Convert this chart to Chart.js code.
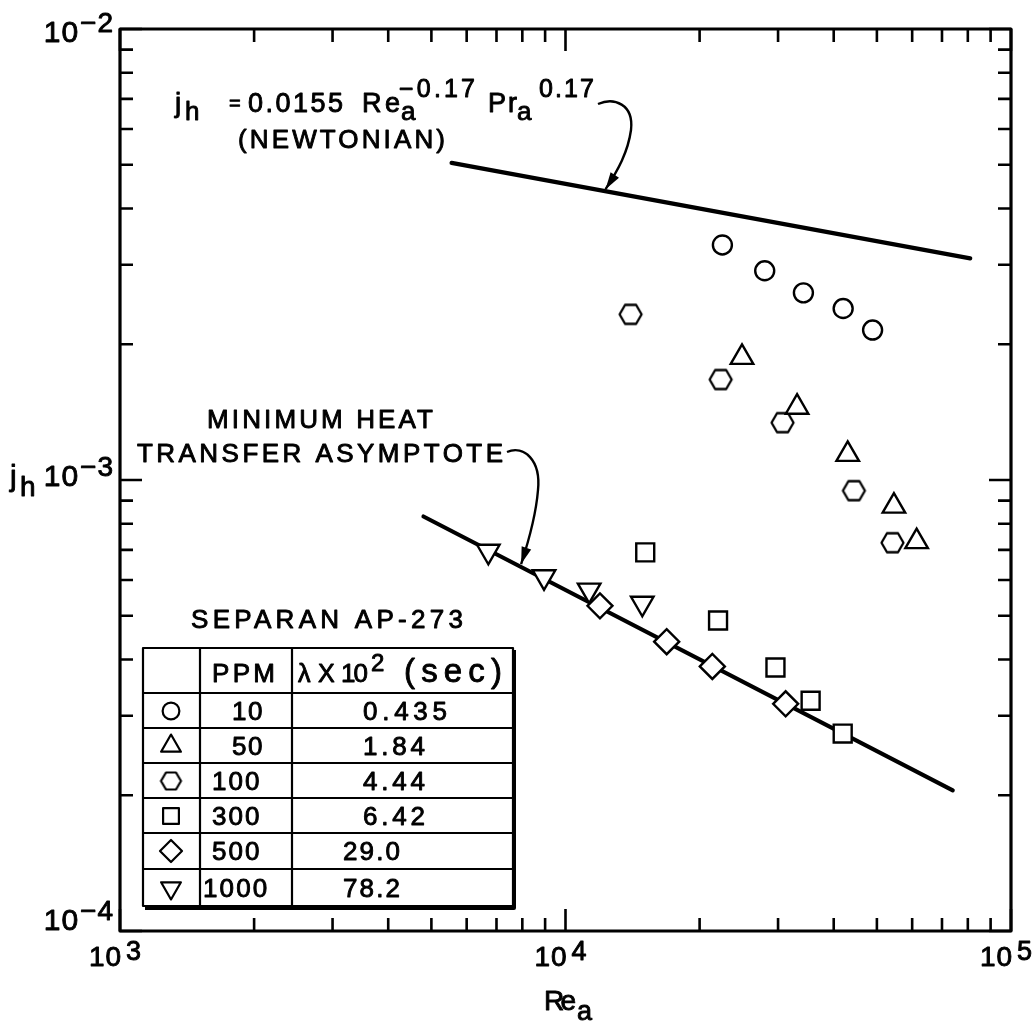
<!DOCTYPE html>
<html>
<head>
<meta charset="utf-8">
<script src="https://cdn.jsdelivr.net/npm/chart.js@4.4.1/dist/chart.umd.min.js"></script>
<style>
  html, body { margin: 0; padding: 0; background: #fff; overflow: hidden; }
  canvas { display: block; }
</style>
</head>
<body>
<canvas id="c" width="1033" height="1023"></canvas>
<script>
// j_h vs apparent Reynolds number for Separan AP-273 solutions (log-log)

// ---- axes ----
const xRange = [1e3, 1e5];
const yRange = [1e-4, 1e-2];
const xMajorTicks = [1e3, 1e4, 1e5];
const xTickExponents = ['3', '4', '5'];
const xMinorTicks = [2e3, 3e3, 4e3, 5e3, 6e3, 7e3, 8e3, 9e3, 2e4, 3e4, 4e4, 5e4, 6e4, 7e4, 8e4, 9e4];
const yMajorTicks = [1e-2, 1e-3, 1e-4];
const yTickExponents = ['\u22122', '\u22123', '\u22124'];
const yMinorTicks = [2e-4, 3e-4, 4e-4, 5e-4, 6e-4, 7e-4, 8e-4, 9e-4, 2e-3, 3e-3, 4e-3, 5e-3, 6e-3, 7e-3, 8e-3, 9e-3];

// ---- legend table ----
const tableTitle = 'SEPARAN AP-273';
const seriesPPM = ['10', '50', '100', '300', '500', '1000'];
const seriesLambda = ['0.435', '1.84', '4.44', '6.42', '29.0', '78.2'];

// ---- measurements (Re_a, j_h) ----
const re10 = [22500, 28000, 34200, 42000, 48900];
const jh10 = [3.32e-3, 2.91e-3, 2.60e-3, 2.40e-3, 2.15e-3];

const re50 = [24900, 33100, 43000, 54600, 61400];
const jh50 = [1.87e-3, 1.45e-3, 1.14e-3, 8.75e-4, 7.30e-4];

const re100 = [14000, 22300, 30700, 44400, 54200];
const jh100 = [2.33e-3, 1.67e-3, 1.34e-3, 9.47e-4, 7.26e-4];

const re300 = [15100, 22000, 29600, 35500, 41900];
const jh300 = [6.91e-4, 4.88e-4, 3.84e-4, 3.24e-4, 2.74e-4];

const re500 = [11950, 16870, 21360, 31200];
const jh500 = [5.26e-4, 4.38e-4, 3.86e-4, 3.19e-4];

const re1000 = [6710, 8950, 11300, 14870];
const jh1000 = [6.95e-4, 6.10e-4, 5.70e-4, 5.33e-4];

// ---- correlation lines ----
const newtonianRe = [5550, 81000];
const newtonianJh = [5.05e-3, 3.10e-3];
const asymptoteRe = [4800, 74000];
const asymptoteJh = [8.30e-4, 2.05e-4];
const newtonianArrowRe = 12300;   // where the equation arrow lands
const asymptoteArrowRe = 7950;    // where the asymptote arrow lands

// ---------------------------------------------------------------
const ink = '#000';
const FONT = '"Liberation Sans", Arial, Helvetica, sans-serif';

function hexagonSprite(w, h, lw) {
  const c = document.createElement('canvas');
  c.width = Math.ceil(w + lw * 2 + 2);
  c.height = Math.ceil(h + lw * 2 + 2);
  const g = c.getContext('2d');
  const cx = c.width / 2, cy = c.height / 2;
  g.beginPath();
  g.moveTo(cx - w / 2, cy);
  g.lineTo(cx - w / 4, cy - h / 2);
  g.lineTo(cx + w / 4, cy - h / 2);
  g.lineTo(cx + w / 2, cy);
  g.lineTo(cx + w / 4, cy + h / 2);
  g.lineTo(cx - w / 4, cy + h / 2);
  g.closePath();
  g.fillStyle = '#fff';
  g.fill();
  g.lineWidth = lw;
  g.lineJoin = 'round';
  g.strokeStyle = ink;
  g.stroke();
  return c;
}

const hexagon = hexagonSprite(22, 19, 2.3);
const hexagonSmall = hexagonSprite(20, 17, 2.2);

const seriesStyles = [
  { pointStyle: 'circle',   radius: 9.5,  rotation: 0 },
  { pointStyle: 'triangle', radius: 13,   rotation: 0 },
  { pointStyle: hexagon,    radius: 11,   rotation: 0 },
  { pointStyle: 'rect',     radius: 12.7, rotation: 0 },
  { pointStyle: 'rectRot',  radius: 12.5, rotation: 0 },
  { pointStyle: 'triangle', radius: 13,   rotation: 180 }
];

const seriesRe = [re10, re50, re100, re300, re500, re1000];
const seriesJh = [jh10, jh50, jh100, jh300, jh500, jh1000];

function points(xs, ys) { return xs.map((v, i) => ({ x: v, y: ys[i] })); }

const markerSets = seriesRe.map((xs, i) => ({
  label: seriesPPM[i] + ' PPM',
  data: points(xs, seriesJh[i]),
  showLine: false,
  pointStyle: seriesStyles[i].pointStyle,
  pointRadius: seriesStyles[i].radius,
  pointHoverRadius: seriesStyles[i].radius,
  pointRotation: seriesStyles[i].rotation,
  pointBackgroundColor: '#fff',
  pointBorderColor: ink,
  pointBorderWidth: 2.4,
  order: 0
}));

const lineSet = (label, xs, ys) => ({
  label,
  data: points(xs, ys),
  showLine: true,
  borderColor: ink,
  borderWidth: 4.2,
  borderCapStyle: 'round',
  pointRadius: 0,
  pointHoverRadius: 0,
  tension: 0,
  order: 10
});

const datasets = markerSets.concat([
  lineSet('Newtonian', newtonianRe, newtonianJh),
  lineSet('Minimum heat transfer asymptote', asymptoteRe, asymptoteJh)
]);

// log-log interpolation along a two-point line
function onLine(xs, ys, x) {
  const t = (Math.log10(x) - Math.log10(xs[0])) / (Math.log10(xs[1]) - Math.log10(xs[0]));
  return Math.pow(10, Math.log10(ys[0]) + t * (Math.log10(ys[1]) - Math.log10(ys[0])));
}

// ---- text helpers (glyphs get a thin outline for a heavier typewriter look) ----
function txt(ctx, s, x, y, size, spacing = 0, align = 'left') {
  ctx.font = size + 'px ' + FONT;
  ctx.letterSpacing = spacing + 'px';
  ctx.textAlign = align;
  ctx.textBaseline = 'alphabetic';
  ctx.fillText(s, x, y);
  ctx.lineWidth = 0.9;
  ctx.lineJoin = 'round';
  ctx.strokeText(s, x, y);
  const w = ctx.measureText(s).width;
  ctx.letterSpacing = '0px';
  return w;
}
function fitTxt(ctx, s, x, y, size, width) {
  ctx.font = size + 'px ' + FONT;
  ctx.letterSpacing = '0px';
  const natural = ctx.measureText(s).width;
  const sp = s.length > 1 ? (width - natural) / (s.length - 1) : 0;
  txt(ctx, s, x, y, size, sp);
}
function textWidth(ctx, s, size, spacing = 0) {
  ctx.font = size + 'px ' + FONT;
  ctx.letterSpacing = spacing + 'px';
  const w = ctx.measureText(s).width;
  ctx.letterSpacing = '0px';
  return w;
}

function arrow(ctx, path, tip) {
  ctx.beginPath();
  ctx.moveTo(path[0][0], path[0][1]);
  ctx.bezierCurveTo(path[1][0], path[1][1], path[2][0], path[2][1], path[3][0], path[3][1]);
  ctx.bezierCurveTo(path[4][0], path[4][1], path[5][0], path[5][1], tip.x, tip.y);
  ctx.lineWidth = 2.4;
  ctx.stroke();
  const ang = Math.atan2(tip.y - path[5][1], tip.x - path[5][0]);
  const L = 17, W = 5;
  ctx.beginPath();
  ctx.moveTo(tip.x, tip.y);
  ctx.lineTo(tip.x - L * Math.cos(ang) + W * Math.sin(ang), tip.y - L * Math.sin(ang) - W * Math.cos(ang));
  ctx.lineTo(tip.x - L * Math.cos(ang) - W * Math.sin(ang), tip.y - L * Math.sin(ang) + W * Math.cos(ang));
  ctx.closePath();
  ctx.fill();
}

const decorations = {
  id: 'decorations',
  afterDatasetsDraw(chart) {
    const { ctx, chartArea: a, scales: { x, y } } = chart;
    ctx.save();
    ctx.fillStyle = ink;
    ctx.strokeStyle = ink;
    ctx.lineCap = 'butt';

    // frame
    ctx.lineWidth = 3.2;
    ctx.lineJoin = 'round';
    ctx.strokeRect(a.left, a.top, a.right - a.left, a.bottom - a.top);

    // inward tick marks on all four sides
    ctx.lineWidth = 2.6;
    const tickX = (v, len) => {
      const px = x.getPixelForValue(v);
      ctx.beginPath();
      ctx.moveTo(px, a.bottom); ctx.lineTo(px, a.bottom - len);
      ctx.moveTo(px, a.top); ctx.lineTo(px, a.top + len);
      ctx.stroke();
    };
    const tickY = (v, len) => {
      const py = y.getPixelForValue(v);
      ctx.beginPath();
      ctx.moveTo(a.left, py); ctx.lineTo(a.left + len, py);
      ctx.moveTo(a.right, py); ctx.lineTo(a.right - len, py);
      ctx.stroke();
    };
    xMinorTicks.forEach(v => tickX(v, 13));
    xMajorTicks.forEach(v => tickX(v, 22));
    yMinorTicks.forEach(v => tickY(v, 13));
    yMajorTicks.forEach(v => tickY(v, 22));

    // x tick labels: 10^n
    xMajorTicks.forEach((v, i) => {
      const cx = x.getPixelForValue(v) - 5;
      const w10 = textWidth(ctx, '10', 28, 1);
      const we = textWidth(ctx, xTickExponents[i], 27);
      const left = cx - (w10 + 4 + we) / 2;
      txt(ctx, '10', left, 966, 28, 1);
      txt(ctx, xTickExponents[i], left + w10 + 4, 960, 27);
    });

    // y tick labels: 10^-n, right-aligned against the axis
    const yLabelShift = [13, 6, -1];
    yMajorTicks.forEach((v, i) => {
      const base = y.getPixelForValue(v) + yLabelShift[i];
      const right = a.left - 6;
      const we = textWidth(ctx, yTickExponents[i], 28, 1);
      const w10 = textWidth(ctx, '10', 30, 1);
      txt(ctx, yTickExponents[i], right - we, base - 10, 28, 1);
      txt(ctx, '10', right - we - w10 - 1, base, 30, 1);
    });

    // axis titles
    txt(ctx, 'j', 10, 486, 30);
    txt(ctx, 'h', 20, 496, 28);
    fitTxt(ctx, 'Re', 544, 1010, 28, 32);
    txt(ctx, 'a', 577, 1020, 27);

    // Newtonian correlation label
    txt(ctx, 'j', 175, 112, 28);
    txt(ctx, 'h', 185, 120, 26);
    txt(ctx, '=', 229, 110, 20);
    fitTxt(ctx, '0.0155', 248, 112, 27, 95);
    fitTxt(ctx, 'Re', 362, 112, 27, 38);
    txt(ctx, 'a', 401, 120, 26);
    fitTxt(ctx, '\u22120.17', 399, 97, 25, 76);
    fitTxt(ctx, 'Pr', 488, 112, 27, 29);
    txt(ctx, 'a', 517, 120, 26);
    fitTxt(ctx, '0.17', 539, 97, 25, 55);
    fitTxt(ctx, '(NEWTONIAN)', 238, 148, 26, 207);

    const nTip = {
      x: x.getPixelForValue(newtonianArrowRe),
      y: y.getPixelForValue(onLine(newtonianRe, newtonianJh, newtonianArrowRe)) - 2
    };
    arrow(ctx, [[598, 104], [614, 97], [634, 104], [631, 130], [628, 152], [618, 170]], nTip);

    // asymptote label
    fitTxt(ctx, 'MINIMUM HEAT', 207, 428, 26, 226);
    fitTxt(ctx, 'TRANSFER ASYMPTOTE', 137, 462, 26, 366);
    const aTip = {
      x: x.getPixelForValue(asymptoteArrowRe),
      y: y.getPixelForValue(onLine(asymptoteRe, asymptoteJh, asymptoteArrowRe)) - 3
    };
    arrow(ctx, [[507, 452], [524, 445], [541, 460], [538, 490], [536, 515], [529, 540]], aTip);

    // legend table
    const T = { left: 143, right: 513, top: 648, bottom: 906, col1: 200, col2: 292 };
    const rows = [693, 728, 763, 798, 833, 869];
    fitTxt(ctx, tableTitle, 191, 628, 26, 272);
    ctx.lineWidth = 2.2;
    ctx.strokeRect(T.left, T.top, T.right - T.left, T.bottom - T.top);
    ctx.lineWidth = 4;
    ctx.beginPath();
    ctx.moveTo(T.right + 1, T.top + 2); ctx.lineTo(T.right + 1, T.bottom + 2);
    ctx.lineTo(T.left + 2, T.bottom + 2);
    ctx.stroke();
    ctx.lineWidth = 2.2;
    ctx.beginPath();
    rows.forEach(r => { ctx.moveTo(T.left, r); ctx.lineTo(T.right, r); });
    ctx.moveTo(T.col1, T.top); ctx.lineTo(T.col1, T.bottom);
    ctx.moveTo(T.col2, T.top); ctx.lineTo(T.col2, T.bottom);
    ctx.stroke();

    fitTxt(ctx, 'PPM', 212, 682, 26, 63);
    txt(ctx, '\u03bb', 298, 682, 25);
    txt(ctx, 'X', 318, 682, 25);
    fitTxt(ctx, '10', 341, 682, 26, 27);
    txt(ctx, '2', 371, 671, 24);
    fitTxt(ctx, '(sec)', 404, 682, 33, 98);

    const ppmLeft = [232, 232, 212, 212, 212, 203];
    const lamLeft = [363, 363, 363, 363, 343, 343];
    const rowBase = [720, 755, 790, 825, 860, 897];
    const symY = [711, 746, 781, 816, 851, 888];
    const draw = Chart.helpers && Chart.helpers.drawPoint;
    seriesPPM.forEach((p, i) => {
      ctx.fillStyle = ink;
      ctx.strokeStyle = ink;
      fitTxt(ctx, p, ppmLeft[i], rowBase[i], 26, p.length * 13.6 + (p.length - 1) * 3.3);
      fitTxt(ctx, seriesLambda[i], lamLeft[i], rowBase[i], 26,
             seriesLambda[i].length === 5 ? 84 : (i >= 4 ? 57 : 62));
      if (draw) {
        ctx.fillStyle = '#fff';
        ctx.strokeStyle = ink;
        ctx.lineWidth = 2.2;
        const s = seriesStyles[i];
        const style = s.pointStyle === hexagon ? hexagonSmall : s.pointStyle;
        draw(ctx, { pointStyle: style, radius: s.radius * 0.88, rotation: s.rotation, borderWidth: 2.2 }, 171, symY[i]);
      }
    });
    ctx.restore();
  }
};

new Chart(document.getElementById('c'), {
  type: 'scatter',
  data: { datasets },
  options: {
    responsive: false,
    animation: false,
    events: [],
    devicePixelRatio: 1,
    layout: { padding: { left: 120, top: 29, right: 22, bottom: 92 } },
    scales: {
      x: { type: 'logarithmic', min: xRange[0], max: xRange[1], display: false },
      y: { type: 'logarithmic', min: yRange[0], max: yRange[1], display: false }
    },
    plugins: { legend: { display: false }, tooltip: { enabled: false } }
  },
  plugins: [decorations]
});
</script>
</body>
</html>
